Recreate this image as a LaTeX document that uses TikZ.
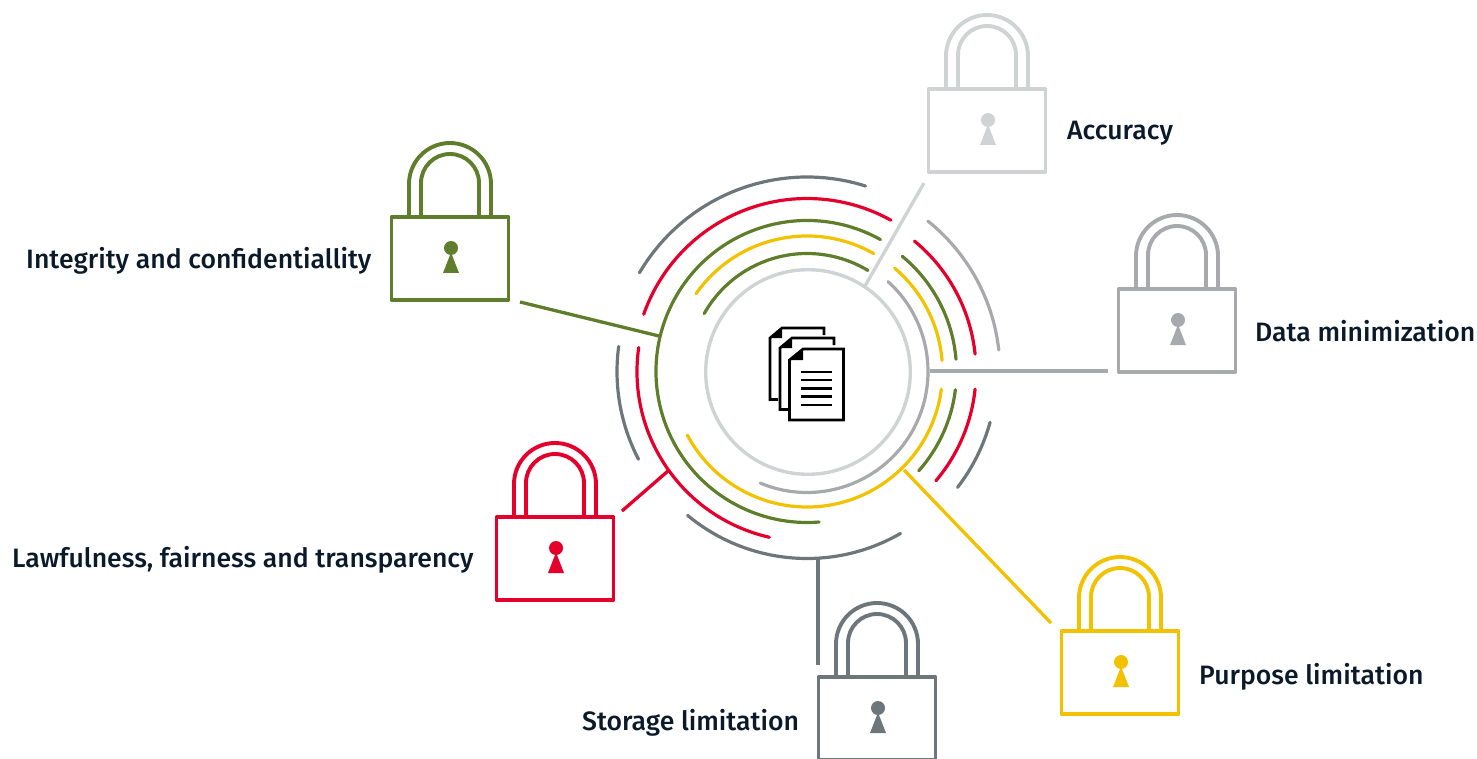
\documentclass[tikz,border=0pt]{standalone}
\usepackage{fontspec}
\setmainfont{Fira Sans Medium}
\definecolor{cgreen}{HTML}{5E7E2B}
\definecolor{cred}{HTML}{E4002B}
\definecolor{cyellow}{HTML}{F2C200}
\definecolor{cdark}{HTML}{6D767B}
\definecolor{cmid}{HTML}{A7A9AC}
\definecolor{clight}{HTML}{D0D3D4}
\definecolor{ctext}{HTML}{0B1A2B}
\newcommand{\ringarc}[4]{\draw[ringline,#1] (c) ++(#3:#2pt) arc[start angle=#3,end angle=#4,radius=#2pt];}
\newcommand{\padlock}[4]{%
  \node[lockbody,draw=#2] (#1) at (#3,#4) {};
  \draw[lockline,#2] ([xshift=-41pt]#1.north) -- ++(0,-33) arc[start angle=180,end angle=0,radius=41pt] -- ([xshift=41pt]#1.north);
  \draw[lockline,#2] ([xshift=-29pt]#1.north) -- ++(0,-34) arc[start angle=180,end angle=0,radius=29pt] -- ([xshift=29pt]#1.north);
  \fill[#2] ([xshift=1pt,yshift=10.5pt]#1.center) circle[radius=7pt];
  \fill[#2] ([xshift=1pt,yshift=6pt]#1.center) -- ([xshift=9pt,yshift=-14.5pt]#1.center) -- ([xshift=-7pt,yshift=-14.5pt]#1.center) -- cycle;
}
\tikzset{
  ringline/.style={line width=3.2pt,line cap=round},
  connector/.style={line width=3.3pt},
  lockline/.style={line width=3.9pt},
  lockbody/.style={rectangle,line width=3.5pt,minimum width=117pt,minimum height=83pt,inner sep=0pt,outer sep=0pt,line join=round},
  lbl/.style={font=\fontsize{26.6}{30}\selectfont,text=ctext,inner sep=0pt,anchor=base west},
  pageline/.style={line width=2.6pt,line join=miter,black}
}
\begin{document}
\begin{tikzpicture}[x=1pt,y=-1pt]
\useasboundingbox (0,0) rectangle (1477,759);
\coordinate (c) at (807,371.5);
\coordinate (c0) at (808,372);
% centre rings
\draw[line width=3.4pt,clight] (c0) circle[radius=102.3pt];
\ringarc{cmid}{121}{48}{-112.7}
\ringarc{cgreen}{118}{58.9}{150.6}
\ringarc{cyellow}{135.5}{60.5}{145}
\ringarc{cyellow}{135.5}{49.7}{4.7}
\ringarc{cyellow}{135.5}{-7.5}{-152}
\ringarc{cgreen}{151}{60.9}{274.6}
\ringarc{cgreen}{149.5}{50.4}{4.7}
\ringarc{cgreen}{149.5}{-7}{-41.6}
\ringarc{cred}{173}{61}{160.7}
\ringarc{cred}{170}{171.9}{257.2}
\ringarc{cred}{169}{50.5}{5.9}
\ringarc{cred}{169}{-6}{-40.3}
\ringarc{cdark}{194.5}{72.5}{149.5}
\ringarc{cdark}{190}{172.4}{207.5}
\ringarc{cdark}{187}{230.3}{300}
\ringarc{cdark}{190}{-37.6}{-15.5}
\ringarc{cmid}{193}{51.2}{6.4}
% locks
\padlock{lockI}{cgreen}{450}{258.5}
\padlock{lockA}{clight}{987}{130.5}
\padlock{lockD}{cmid}{1177}{330.5}
\padlock{lockL}{cred}{555}{558.5}
\padlock{lockP}{cyellow}{1120}{672.5}
\padlock{lockS}{cdark}{877}{718.5}
% connector ends
\coordinate (aA) at (865,286); \coordinate (bA) at (924,183);
\coordinate (aD) at (930,371); \coordinate (bD) at (1108,371);
\coordinate (aP) at (904,470); \coordinate (bP) at (1051,623);
\coordinate (aS) at (818,558); \coordinate (bS) at (818,665);
\coordinate (aL) at (668,471); \coordinate (bL) at (622,511);
\coordinate (aI) at (659,336); \coordinate (bI) at (520,302);
\draw[connector,clight] (aA) -- (bA);
\draw[connector,cmid] (aD) -- (bD);
\draw[connector,cyellow] (aP) -- (bP);
\draw[connector,cdark] (aS) -- (bS);
\draw[connector,cred] (aL) -- (bL);
\draw[connector,cgreen] (aI) -- (bI);
% labels
\node[lbl] (tI) at (26,269) {Integrity and confidentiallity};
\node[lbl] (tA) at (1067,140) {Accuracy};
\node[lbl] (tD) at (1255,341) {Data minimization};
\node[lbl] (tL) at (12,567) {Lawfulness, fairness and transparency};
\node[lbl] (tP) at (1199,684) {Purpose limitation};
\node[lbl] (tS) at (582,730) {Storage limitation};
% document icon
\draw[pageline] (824,335) -- (824,328) -- (782,328) -- (770,338) -- (770,399.5) -- (778,399.5);
\fill[black] (770,338) -- (782,328) -- (782,338) -- cycle;
\draw[pageline,fill=white] (834,345) -- (834,338) -- (792,338) -- (780,348) -- (780,409.5) -- (788,409.5);
\fill[black] (780,348) -- (792,338) -- (792,348) -- cycle;
\draw[pageline,fill=white] (843.5,349) -- (803,349) -- (789.5,360) -- (789.5,420) -- (843.5,420) -- cycle;
\fill[black] (789.5,360) -- (803,349) -- (803,360) -- cycle;
\foreach \yy in {372,380,388.5,396.5,405} \draw[line width=2.6pt,black] (801,\yy) -- (832,\yy);
\end{tikzpicture}
\end{document}
